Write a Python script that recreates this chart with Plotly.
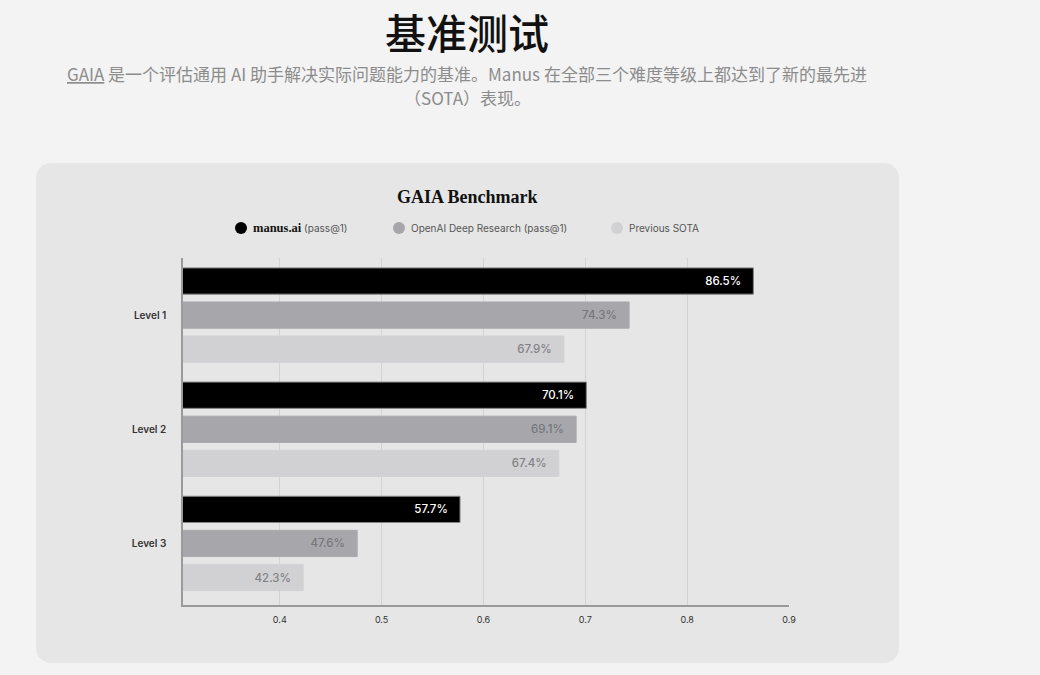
import plotly.graph_objects as go

# ---- data ----
levels = ["Level 1", "Level 2", "Level 3"]
series_names = ["manus.ai (pass@1)", "OpenAI Deep Research (pass@1)", "Previous SOTA"]
manus = [0.865, 0.701, 0.577]
openai_dr = [0.743, 0.691, 0.476]
prev_sota = [0.679, 0.674, 0.423]
x_ticks = [0.4, 0.5, 0.6, 0.7, 0.8, 0.9]

values = [manus, openai_dr, prev_sota]
colors = ["#000000", "#a7a7ab", "#d1d1d4"]
line_colors = ["#858585", "#a9a9ad", "#d2d2d5"]
text_colors = ["#ffffff", "#77777b", "#828286"]

W, H = 1040, 675
L, R, T, B = 183, 789, 258, 605  # plot area in px


def fx(px):
    return (px - L) / (R - L)


def fy(py):
    return (B - py) / (B - T)


def rounded_rect(x0, y0, x1, y1, r):
    k = 0.5523 * r
    p = [
        f"M {fx(x0 + r)} {fy(y0)}",
        f"L {fx(x1 - r)} {fy(y0)}",
        f"C {fx(x1 - r + k)} {fy(y0)} {fx(x1)} {fy(y0 + r - k)} {fx(x1)} {fy(y0 + r)}",
        f"L {fx(x1)} {fy(y1 - r)}",
        f"C {fx(x1)} {fy(y1 - r + k)} {fx(x1 - r + k)} {fy(y1)} {fx(x1 - r)} {fy(y1)}",
        f"L {fx(x0 + r)} {fy(y1)}",
        f"C {fx(x0 + r - k)} {fy(y1)} {fx(x0)} {fy(y1 - r + k)} {fx(x0)} {fy(y1 - r)}",
        f"L {fx(x0)} {fy(y0 + r)}",
        f"C {fx(x0)} {fy(y0 + r - k)} {fx(x0 + r - k)} {fy(y0)} {fx(x0 + r)} {fy(y0)} Z",
    ]
    return " ".join(p)


fig = go.Figure()
for name, vals, c, lc, tc in zip(series_names, values, colors, line_colors, text_colors):
    fig.add_trace(go.Bar(
        y=levels, x=vals, name=name, orientation="h",
        marker=dict(color=c, line=dict(color=lc, width=1)),
        text=[f"{v*100:.1f}%\u00a0\u00a0\u00a0" for v in vals],
        textposition="inside", insidetextanchor="end", textangle=0,
        insidetextfont=dict(family="Inter, Roboto, sans-serif", size=11.5, color=tc, weight=500),
        hoverinfo="skip", showlegend=False,
    ))

shapes = [dict(type="path", xref="paper", yref="paper",
               path=rounded_rect(36, 163, 899, 663, 15),
               fillcolor="#e6e6e6", line=dict(width=0), layer="below")]

sub_font = dict(family="Noto Sans CJK SC", size=17, color="#8c8c8c")
annotations = [
    dict(text="基准测试", x=fx(467), y=fy(31), xref="paper", yref="paper",
         showarrow=False, xanchor="center", yanchor="middle",
         font=dict(family="Noto Sans CJK SC", size=41, color="#111111", weight=500)),
    dict(text="<u>GAIA</u> 是一个评估通用 AI 助手解决实际问题能力的基准。Manus 在全部三个难度等级上都达到了新的最先进",
         x=fx(467), y=fy(73), xref="paper", yref="paper",
         showarrow=False, xanchor="center", yanchor="middle", font=sub_font),
    dict(text="（SOTA）表现。",
         x=fx(467), y=fy(97), xref="paper", yref="paper",
         showarrow=False, xanchor="center", yanchor="middle", font=sub_font),
    dict(text="<b>GAIA Benchmark</b>", x=fx(467), y=fy(197), xref="paper", yref="paper",
         showarrow=False, xanchor="center", yanchor="middle",
         font=dict(family="Liberation Serif, DejaVu Serif, serif", size=18, color="#111111")),
]

# legend (circles + labels)
leg_cx = [241, 399, 617]
leg_labels = [
    "<span style='font-family:Liberation Serif, serif;font-weight:bold;font-size:12.5px;color:#111'>manus.ai</span> (pass@1)",
    series_names[1],
    series_names[2],
]
for cx, lab, c in zip(leg_cx, leg_labels, colors):
    shapes.append(dict(type="circle", xref="paper", yref="paper",
                       x0=fx(cx - 6), x1=fx(cx + 6), y0=fy(228 + 6), y1=fy(228 - 6),
                       fillcolor=c, line=dict(width=0)))
    annotations.append(dict(text=lab, x=fx(cx + 10), y=fy(228), xref="paper", yref="paper",
                            showarrow=False, xanchor="left", yanchor="middle",
                            font=dict(family="Inter, Roboto, sans-serif", size=10, color="#555555")))

fig.update_layout(
    width=W, height=H,
    margin=dict(l=L, r=W - R, t=T, b=H - B, pad=0),
    paper_bgcolor="#f3f3f3", plot_bgcolor="#e6e6e6",
    barmode="group", bargap=0.105, bargroupgap=0.23,
    shapes=shapes, annotations=annotations,
    showlegend=False,
)
fig.update_xaxes(range=[0.305, 0.9], tickvals=x_ticks, ticktext=[f"{t:.1f}" for t in x_ticks],
                 showgrid=True, gridcolor="#d3d3d3", gridwidth=1,
                 showline=True, linecolor="#9a9a9a", linewidth=1.5,
                 ticks="", ticklabelstandoff=5, zeroline=False,
                 tickfont=dict(family="Inter, Roboto, sans-serif", size=9, color="#333333"))
fig.update_yaxes(range=[2.539, -0.5], showgrid=False,
                 showline=True, linecolor="#9a9a9a", linewidth=1.5,
                 ticks="", ticklabelstandoff=13,
                 tickfont=dict(family="Inter, Roboto, sans-serif", size=10, color="#333333", weight=600))

fig.write_html("out.html")
